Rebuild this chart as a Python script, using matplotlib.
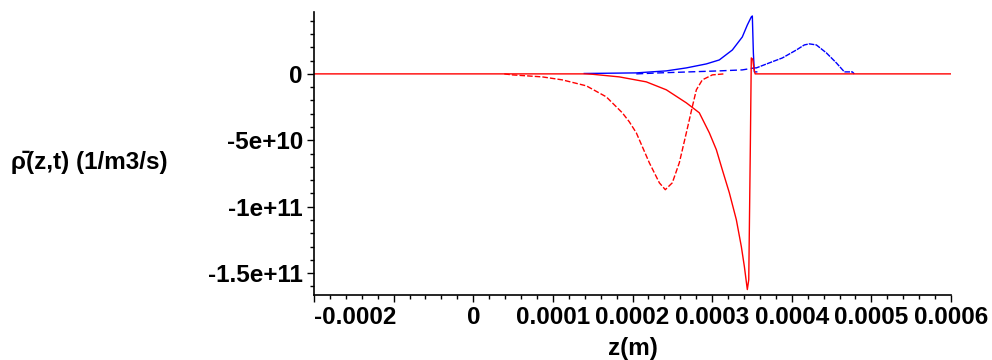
import numpy as np
import matplotlib
matplotlib.use("Agg")
import matplotlib.pyplot as plt
from matplotlib.ticker import FixedLocator, FixedFormatter, MultipleLocator

# ---- data (z in m, source in 1/m3/s) ----
red_solid_z = [-2.0e-4, 1.40e-4, 1.50e-4, 1.834e-4, 2.173e-4, 2.425e-4, 2.676e-4, 2.839e-4,
               2.965e-4, 3.053e-4, 3.128e-4, 3.216e-4, 3.304e-4, 3.367e-4, 3.405e-4,
               3.442e-4, 3.460e-4, 3.480e-4, 3.492e-4, 3.510e-4, 3.525e-4, 3.540e-4, 6.0e-4]
red_solid_v = [0.0, 0.0, -3.0e8, -2.26e9, -6.0e9, -1.2e10, -2.18e10, -2.93e10,
               -4.44e10, -5.71e10, -7.22e10, -8.95e10, -1.098e11, -1.301e11, -1.451e11,
               -1.624e11, -1.55e11, -5.4e10, 1.2e10, 1.1e10, 4.0e9, 0.0, 0.0]

red_dash_z = [0.39e-4, 0.49e-4, 0.867e-4, 1.118e-4, 1.42e-4, 1.671e-4, 1.872e-4, 1.96e-4,
              2.048e-4, 2.211e-4, 2.337e-4, 2.412e-4, 2.50e-4, 2.588e-4, 2.676e-4,
              2.751e-4, 2.802e-4, 2.877e-4, 3.003e-4, 3.15e-4]
red_dash_v = [0.0, -7.5e8, -2.26e9, -4.5e9, -9.0e9, -1.73e10, -2.93e10, -3.61e10,
              -4.44e10, -6.69e10, -8.2e10, -8.72e10, -8.2e10, -6.69e10, -4.44e10,
              -2.48e10, -1.2e10, -4.5e9, -7.5e8, 0.0]

blue_solid_z = [1.394e-4, 1.70e-4, 2.048e-4, 2.425e-4, 2.676e-4, 2.927e-4, 3.09e-4, 3.254e-4,
                3.379e-4, 3.442e-4, 3.492e-4, 3.505e-4, 3.518e-4, 3.530e-4, 3.56e-4]
blue_solid_v = [3.0e8, 5.0e8, 7.5e8, 2.26e9, 4.5e9, 7.5e9, 1.05e10, 1.8e10,
                2.78e10, 3.68e10, 4.29e10, 4.36e10, 1.58e10, 1.5e9, 1.5e9]

blue_dash_z = [2.048e-4, 2.337e-4, 2.714e-4, 3.09e-4, 3.379e-4, 3.53e-4, 3.555e-4, 3.719e-4,
               3.882e-4, 4.058e-4, 4.158e-4, 4.221e-4, 4.309e-4, 4.435e-4, 4.56e-4,
               4.661e-4, 4.761e-4, 4.786e-4]
blue_dash_v = [0.0, 7.5e8, 1.5e9, 2.26e9, 3.0e9, 4.5e9, 4.5e9, 8.3e9,
               1.2e10, 1.8e10, 2.18e10, 2.26e10, 2.18e10, 1.58e10, 8.3e9,
               1.5e9, 1.5e9, 0.0]

x_ticks = [-2e-4, -1e-4, 0.0, 1e-4, 2e-4, 3e-4, 4e-4, 5e-4, 6e-4]
x_tick_labels = ["-0.0002", "", "0", "0.0001", "0.0002", "0.0003", "0.0004", "0.0005", "0.0006"]
y_ticks = [0.0, -5e10, -1e11, -1.5e11]
y_tick_labels = ["0", "-5e+10", "-1e+11", "-1.5e+11"]

# ---- figure ----
fam = ["Liberation Sans", "DejaVu Sans"]
plt.rcParams["font.family"] = fam
plt.rcParams["font.weight"] = "bold"
fs = 17.5

fig = plt.figure(figsize=(9.92, 3.60), dpi=100)
ax = fig.add_axes([314/992, 65/360, 637/992, 283/360])

RED = "#ff0000"
BLUE = "#0000ff"

bz = np.array(blue_dash_z); bv = np.array(blue_dash_v)
m1 = bz <= 3.53e-4
m2 = bz >= 3.53e-4
ax.plot(blue_solid_z, blue_solid_v, color=BLUE, lw=1.0)
ax.plot(bz[m1], bv[m1], color=BLUE, lw=1.0, dashes=(5, 2.5))
ax.plot(bz[m2], bv[m2], color=BLUE, lw=1.0, dashes=(4, 0.8))
ax.plot(red_dash_z, red_dash_v, color=RED, lw=1.0, dashes=(4, 1.5))
ax.plot(red_solid_z, red_solid_v, color=RED, lw=1.0)

ax.set_xlim(-2e-4, 6e-4)
ax.set_ylim(-1.665e11, 4.66e10)

for s in ("top", "right"):
    ax.spines[s].set_visible(False)
for s in ("left", "bottom"):
    ax.spines[s].set_linewidth(1.2)

ax.xaxis.set_major_locator(FixedLocator(x_ticks))
ax.xaxis.set_major_formatter(FixedFormatter(x_tick_labels))
ax.xaxis.set_minor_locator(MultipleLocator(2e-5))
ax.yaxis.set_major_locator(FixedLocator(y_ticks))
ax.yaxis.set_major_formatter(FixedFormatter(y_tick_labels))
ax.yaxis.set_minor_locator(MultipleLocator(1e10))

ax.tick_params(which="major", direction="out", length=5, width=1.0, labelsize=fs, pad=3)
ax.tick_params(which="minor", direction="out", length=3, width=1.0)
for lab in ax.get_xticklabels() + ax.get_yticklabels():
    lab.set_fontweight("bold")
xl = ax.get_xticklabels()
xl[0].set_horizontalalignment("left")

ax.set_xlabel("z(m)", fontsize=fs, fontweight="bold")
ax.xaxis.set_label_coords(0.5, -0.15)
ax.set_ylabel("\u03c1\u0304(z,t) (1/m3/s)", fontsize=fs, fontweight="bold",
              rotation=0, ha="left", va="center")
ax.yaxis.set_label_coords(-0.475, 0.47)

fig.savefig("out.png", dpi=100)
